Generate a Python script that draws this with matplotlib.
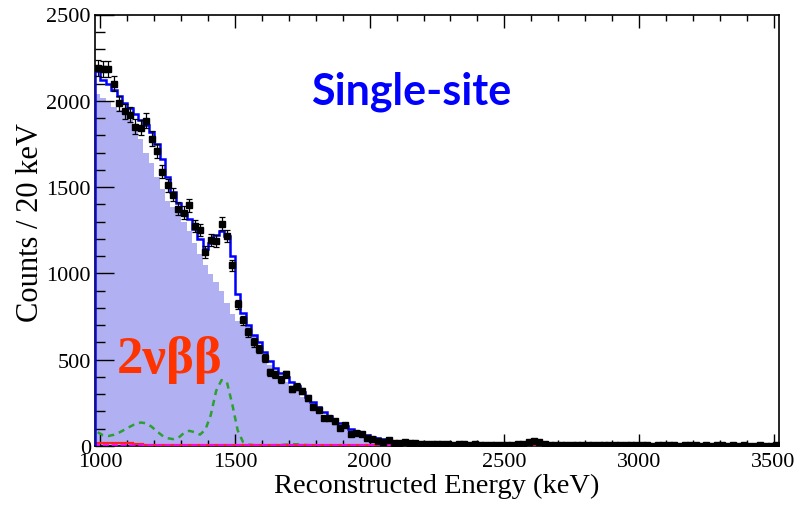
import numpy as np
import matplotlib
matplotlib.use("Agg")
import matplotlib.pyplot as plt
from matplotlib.ticker import MultipleLocator

# 20 keV bins, 980 -> 3520 keV (127 bins)
bin_lo, bin_hi, bin_w = 980, 3520, 20

data_counts = [
    2190, 2185, 2185, 2100, 1985, 1940, 1920, 1850, 1845, 1885,
    1780, 1710, 1590, 1510, 1455, 1375, 1352, 1395, 1275, 1250,
    1125, 1195, 1190, 1288, 1216, 1046, 820, 728, 660, 600,
    562, 508, 426, 416, 386, 416, 332, 344, 318, 279,
    227, 211, 162, 162, 142, 104, 123, 70, 78, 70,
    45, 39, 31, 25, 35, 16, 18, 21, 15, 17,
    12, 14, 10, 12, 9, 11, 8, 10, 9, 7,
    9, 8, 6, 8, 7, 6, 8, 7, 10, 14,
    22, 30, 21, 12, 7, 6, 5, 4, 6, 4,
    5, 3, 5, 4, 4, 6, 3, 4, 5, 3,
    4, 3, 5, 2, 4, 3, 4, 3, 2, 4,
    3, 3, 2, 4, 2, 3, 3, 2, 3, 2,
    3, 2, 2, 3, 2, 2, 3,
]

fit_total = [
    2172, 2120, 2095, 2065, 2030, 1990, 1960, 1925, 1890, 1860,
    1820, 1750, 1660, 1560, 1470, 1410, 1345, 1315, 1260, 1200,
    1140, 1175, 1220, 1245, 1216, 1100, 880, 770, 700, 645,
    605, 545, 495, 450, 425, 400, 372, 345, 315, 285,
    255, 225, 197, 172, 152, 132, 116, 100, 88, 76,
    65, 55, 47, 40, 34, 29, 25, 22, 19, 17,
    16, 14, 13, 12, 11, 11, 10, 10, 9, 9,
    9, 8, 8, 8, 8, 8, 8, 9, 11, 16,
    23, 27, 21, 13, 8, 6, 5, 5, 5, 5,
    5, 5, 4, 4, 4, 4, 4, 4, 4, 4,
    4, 4, 4, 4, 4, 4, 3, 3, 3, 3,
    3, 3, 3, 3, 3, 3, 3, 3, 3, 3,
    3, 3, 3, 3, 3, 3, 3,
]

two_nu_bb = [
    2040, 2015, 1995, 1965, 1945, 1915, 1890, 1840, 1780, 1700,
    1640, 1560, 1490, 1420, 1385, 1350, 1300, 1245, 1175, 1110,
    1050, 995, 950, 900, 830, 765, 725, 700, 690, 635,
    580, 520, 470, 425, 395, 370, 348, 318, 285, 255,
    225, 200, 178, 160, 140, 122, 106, 92, 79, 67,
    57, 48, 41, 34, 28, 23, 19, 15, 12, 10,
    8, 6, 5, 4, 3, 2, 2, 1, 1, 1,
    0, 0, 0, 0, 0, 0, 0, 0, 0, 0,
    0, 0, 0, 0, 0, 0, 0, 0, 0, 0,
    0, 0, 0, 0, 0, 0, 0, 0, 0, 0,
    0, 0, 0, 0, 0, 0, 0, 0, 0, 0,
    0, 0, 0, 0, 0, 0, 0, 0, 0, 0,
    0, 0, 0, 0, 0, 0, 0,
]

other_bkg = [
    80, 62, 58, 65, 78, 95, 112, 128, 136, 132,
    112, 85, 60, 45, 40, 48, 75, 88, 80, 66,
    95, 180, 320, 382, 370, 240, 90, 22, 8, 5,
    4, 4, 4, 5, 6, 8, 10, 10, 7, 5,
    4, 3, 3, 3, 3, 3, 3, 3, 3, 3,
    3, 3, 3, 3, 3, 3, 3, 3, 3, 3,
    2, 2, 2, 2, 2, 2, 2, 2, 2, 2,
    2, 2, 2, 2, 2, 2, 2, 2, 2, 3,
    4, 4, 3, 2, 2, 1, 1, 1, 1, 1,
    1, 1, 1, 1, 1, 1, 1, 1, 1, 1,
    1, 1, 1, 1, 1, 1, 1, 1, 1, 1,
    1, 1, 1, 1, 1, 1, 1, 1, 1, 1,
    1, 1, 1, 1, 1, 1, 1,
]

red_bkg = [
    16, 16, 16, 15, 15, 15, 15, 14, 14, 6,
    6, 6, 5, 5, 5, 5, 5, 8, 8, 5,
    4, 4, 4, 4, 4, 4, 4, 4, 4, 4,
    4, 4, 4, 4, 4, 4, 6, 8, 8, 4,
    3, 3, 3, 3, 3, 3, 3, 3, 3, 3,
    3, 3, 3, 3, 3, 3, 2, 2, 2, 2,
    2, 2, 2, 2, 2, 2, 2, 2, 2, 2,
    2, 2, 2, 2, 2, 2, 2, 2, 2, 2,
    2, 2, 2, 2, 1, 1, 1, 1, 1, 1,
    1, 1, 1, 1, 1, 1, 1, 1, 1, 1,
    1, 1, 1, 1, 1, 1, 1, 1, 1, 1,
    1, 1, 1, 1, 1, 1, 1, 1, 1, 1,
    1, 1, 1, 1, 1, 1, 1,
]

magenta_bkg = [3] * 60 + [1] * 67

edges = np.arange(bin_lo, bin_hi + 1, bin_w)
centers = 0.5 * (edges[:-1] + edges[1:])
data = np.array(data_counts, float)

fig = plt.figure(figsize=(8.02, 5.06), dpi=100)
ax = fig.add_axes([95 / 802, 1 - 447 / 506, (779 - 95) / 802, (447 - 15.5) / 506])

ax.stairs(two_nu_bb, edges, fill=True, color="#b0b0f2", lw=0, zorder=1)
ax.plot(centers, other_bkg, ls=(0, (2.5, 2)), color="#2ea02e", lw=1.8, zorder=3)
ax.stairs(red_bkg, edges, color="#ff2020", lw=1.6, zorder=3)
ax.stairs(magenta_bkg, edges, color="#ff00ff", lw=1.2, ls="--", zorder=3)
ax.stairs(fit_total, edges, baseline=0, color="#0000ff", lw=1.8, zorder=4)
ax.errorbar(centers, data, yerr=np.sqrt(data), fmt="s", ms=4.4, color="black",
            ecolor="black", elinewidth=0.9, capsize=2.2, capthick=0.9, zorder=5)

ax.set_xlim(bin_lo, bin_hi)
ax.set_ylim(0, 2500)
ax.xaxis.set_major_locator(MultipleLocator(500))
ax.xaxis.set_minor_locator(MultipleLocator(100))
ax.yaxis.set_major_locator(MultipleLocator(500))
ax.yaxis.set_minor_locator(MultipleLocator(100))
ax.tick_params(axis="x", which="major", direction="in", length=9, width=1, top=True, pad=4)
ax.tick_params(axis="x", which="minor", direction="in", length=4.5, width=1, top=True)
ax.tick_params(axis="y", which="major", direction="in", length=14, width=1, right=False, pad=3)
ax.tick_params(axis="y", which="minor", direction="in", length=7, width=1, right=False)
for lab in ax.get_xticklabels() + ax.get_yticklabels():
    lab.set_fontfamily("Liberation Serif")
    lab.set_fontsize(16)
for s in ax.spines.values():
    s.set_linewidth(1.2)

fig.text(31 / 802, 1 - 222 / 506, "Counts / 20 keV", rotation=90, ha="center", va="center",
         family="Liberation Serif", fontsize=22)
fig.text(437 / 802, 1 - 486 / 506, "Reconstructed Energy (keV)", ha="center", va="center",
         family="Liberation Serif", fontsize=20.5)
fig.text(170 / 802, 1 - 360 / 506, "2\u03bd\u03b2\u03b2", ha="center", va="center",
         family="Liberation Serif", weight="bold", fontsize=38, color="#ff3300")
fig.text(411 / 802, 1 - 92 / 506, "Single-site", ha="center", va="center",
         family="Lato", weight="bold", fontsize=31, color="#0000ff")

fig.savefig("out.png", dpi=100)
